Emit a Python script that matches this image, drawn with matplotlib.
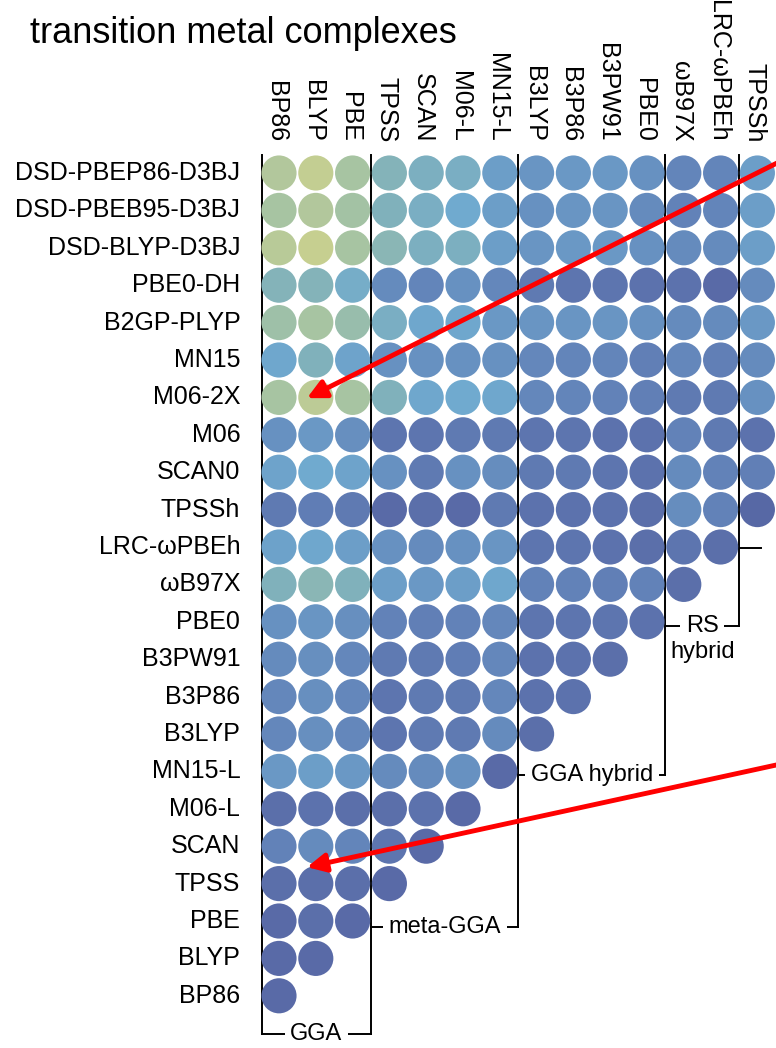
import numpy as np
import matplotlib
matplotlib.use("Agg")
import matplotlib.pyplot as plt
from matplotlib.colors import LinearSegmentedColormap

plt.rcParams['font.family'] = ['Liberation Sans', 'DejaVu Sans']

# row labels, top to bottom
rows = ["DSD-PBEP86-D3BJ", "DSD-PBEB95-D3BJ", "DSD-BLYP-D3BJ", "PBE0-DH", "B2GP-PLYP",
        "MN15", "M06-2X", "M06", "SCAN0", "TPSSh", "LRC-ωPBEh", "ωB97X", "PBE0",
        "B3PW91", "B3P86", "B3LYP", "MN15-L", "M06-L", "SCAN", "TPSS", "PBE", "BLYP", "BP86"]
# visible columns (the rest is cropped off on the right)
cols = ["BP86", "BLYP", "PBE", "TPSS", "SCAN", "M06-L", "MN15-L", "B3LYP", "B3P86",
        "B3PW91", "PBE0", "ωB97X", "LRC-ωPBEh", "TPSSh"]

# relative distance between functionals (0 = identical), read per row
dist = [
    [0.85, 0.95, 0.80, 0.62, 0.58, 0.57, 0.45, 0.40, 0.42, 0.42, 0.38, 0.32, 0.32, 0.45],
    [0.80, 0.85, 0.78, 0.60, 0.57, 0.52, 0.45, 0.38, 0.40, 0.40, 0.35, 0.30, 0.32, 0.45],
    [0.88, 0.97, 0.80, 0.65, 0.58, 0.58, 0.45, 0.40, 0.42, 0.42, 0.38, 0.35, 0.35, 0.45],
    [0.62, 0.62, 0.55, 0.35, 0.32, 0.38, 0.33, 0.25, 0.22, 0.22, 0.20, 0.20, 0.15, 0.35],
    [0.75, 0.80, 0.72, 0.57, 0.50, 0.50, 0.42, 0.40, 0.40, 0.40, 0.38, 0.35, 0.35, 0.42],
    [0.50, 0.60, 0.48, 0.38, 0.38, 0.38, 0.38, 0.33, 0.32, 0.32, 0.28, 0.33, 0.28, 0.35],
    [0.80, 0.90, 0.80, 0.60, 0.50, 0.52, 0.50, 0.33, 0.32, 0.30, 0.28, 0.25, 0.25, 0.38],
    [0.38, 0.42, 0.37, 0.22, 0.22, 0.25, 0.25, 0.22, 0.22, 0.20, 0.20, 0.30, 0.25, 0.20],
    [0.48, 0.52, 0.48, 0.38, 0.25, 0.38, 0.36, 0.25, 0.25, 0.22, 0.20, 0.35, 0.30, 0.28],
    [0.25, 0.27, 0.25, 0.15, 0.18, 0.15, 0.25, 0.20, 0.20, 0.20, 0.18, 0.36, 0.30, 0.12],
    [0.47, 0.50, 0.45, 0.38, 0.35, 0.38, 0.40, 0.22, 0.22, 0.20, 0.18, 0.22, 0.18],
    [0.60, 0.65, 0.60, 0.45, 0.42, 0.45, 0.50, 0.30, 0.30, 0.28, 0.30, 0.18],
    [0.38, 0.40, 0.37, 0.30, 0.28, 0.30, 0.33, 0.22, 0.22, 0.22, 0.20],
    [0.35, 0.37, 0.33, 0.25, 0.25, 0.27, 0.33, 0.20, 0.20, 0.18],
    [0.33, 0.37, 0.33, 0.22, 0.25, 0.25, 0.33, 0.20, 0.20],
    [0.33, 0.37, 0.33, 0.22, 0.25, 0.25, 0.35, 0.18],
    [0.42, 0.45, 0.42, 0.35, 0.35, 0.38, 0.15],
    [0.18, 0.20, 0.18, 0.18, 0.20, 0.15],
    [0.30, 0.35, 0.32, 0.22, 0.15],
    [0.18, 0.18, 0.18, 0.15],
    [0.15, 0.18, 0.15],
    [0.15, 0.15],
    [0.15],
]

# functional families: (label, first col, last col, row where bracket sits)
groups = [("GGA", 0, 2, 23.02), ("meta-GGA", 3, 6, 20.15),
          ("GGA hybrid", 7, 10, 16.1), ("RS\nhybrid", 11, 12, 12.1)]

cmap = LinearSegmentedColormap.from_list("dist", [
    (0.0, "#5262a0"), (0.15, "#596aa7"), (0.3, "#6282b8"), (0.45, "#6c9ec8"),
    (0.52, "#70aacf"), (0.6, "#80b1bb"), (0.75, "#9dc0a8"), (0.9, "#bccb96"),
    (1.0, "#cad08e")])

fig = plt.figure(figsize=(7.76, 10.48), dpi=100)
ax = fig.add_axes([0, 0, 1, 1])
# pixel layout: column j at 279 + 36.8 j, row r at 173 + 37.4 r
ax.set_xlim((0 - 279) / 36.8, (776 - 279) / 36.8)
ax.set_ylim((1048 - 173) / 37.4, (0 - 173) / 37.4)
ax.axis("off")

xs, ys, vs = [], [], []
for r, vals in enumerate(dist):
    for c, v in enumerate(vals):
        xs.append(c)
        ys.append(r)
        vs.append(v)
ax.scatter(xs, ys, c=vs, cmap=cmap, vmin=0, vmax=1, s=640, linewidths=0, zorder=2)

for r, name in enumerate(rows):
    ax.text(-1.05, r, name, ha="right", va="center", fontsize=18)
for c, name in enumerate(cols):
    ax.text(c - 0.08, -0.83, name, rotation=-90, rotation_mode="anchor",
            ha="right", va="center", fontsize=18)

# family separators and brackets
lk = dict(color="black", lw=1.4, zorder=1)
ax.plot([-0.47, -0.47], [-0.48, groups[0][3]], **lk)
for name, c0, c1, yb in groups:
    xr = c1 + 0.5
    ax.plot([xr, xr], [-0.48, yb], **lk)
    xl = -0.47 if c0 == 0 else c0 - 0.5
    ax.plot([xl, xr], [yb, yb], **lk)
    if "\n" in name:
        top, bot = name.split("\n")
        ax.text((xl + xr) / 2, yb, top, ha="center", va="center", fontsize=17,
                bbox=dict(fc="white", ec="none", pad=4))
        ax.text((xl + xr) / 2, yb + 0.7, bot, ha="center", va="center", fontsize=17)
    else:
        ax.text((xl + xr) / 2, yb, name, ha="center", va="center", fontsize=17,
                bbox=dict(fc="white", ec="none", pad=4))
ax.plot([12.5, 13.1], [10.03, 10.03], **lk)

# red arrows
ap = dict(arrowstyle="-|>", color="red", lw=3.5, mutation_scale=28,
          shrinkA=0, shrinkB=0)
ax.annotate("", xy=(0.76, 6.02), xytext=(13.6, -0.3), arrowprops=ap, zorder=5)
ax.annotate("", xy=(0.76, 18.56), xytext=(13.6, 15.81), arrowprops=ap, zorder=5)

fig.text(30 / 776, 1 - 43 / 1048, "transition metal complexes", fontsize=26,
         va="baseline", ha="left")

fig.savefig("out.png", dpi=100)
